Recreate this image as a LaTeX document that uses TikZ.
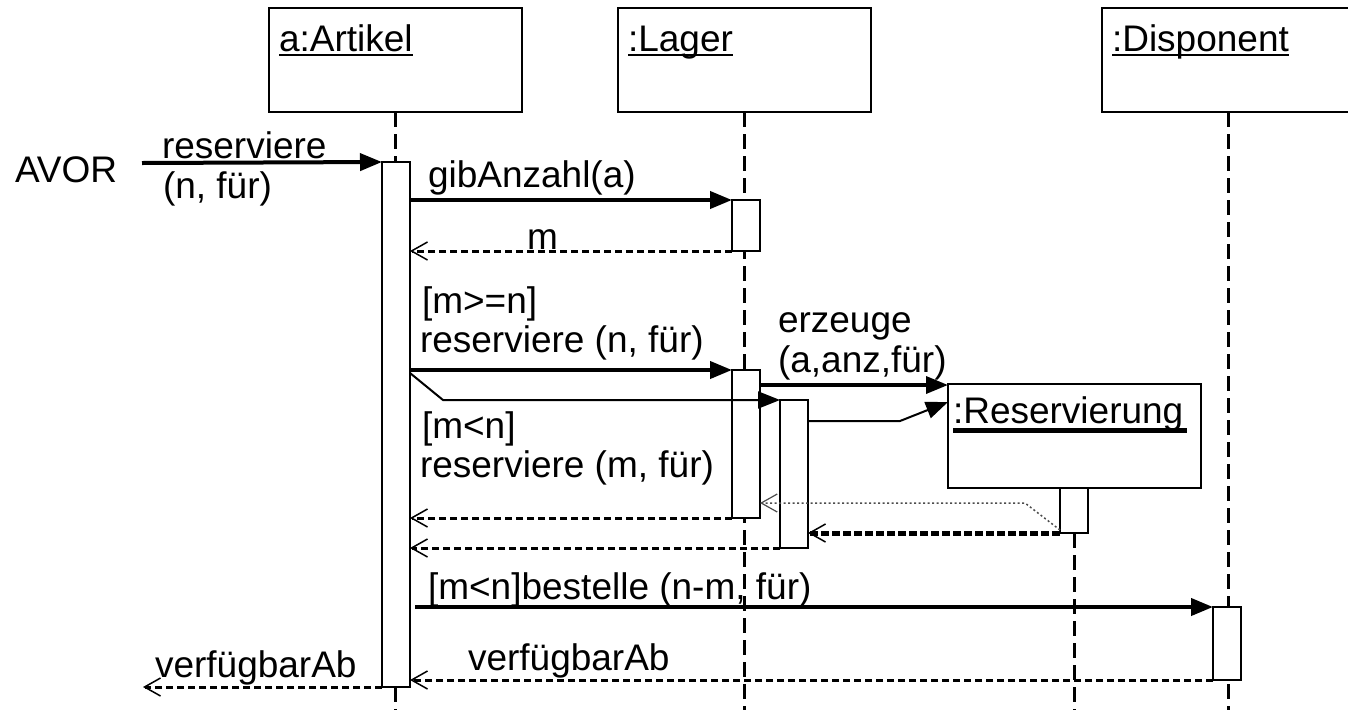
\documentclass[tikz,border=0pt]{standalone}
\usepackage{fontspec}
\setmainfont{Liberation Sans}
\usetikzlibrary{arrows.meta}
\begin{document}
\begin{tikzpicture}[x=1pt,y=-1pt,
  every node/.style={font=\fontsize{37}{40}\selectfont, inner sep=0pt, outer sep=0pt},
  lbl/.style={anchor=base west},
  hbox/.style={draw, line width=2pt, minimum width=253pt, minimum height=104pt, anchor=north west, fill=white},
  abox/.style={draw, line width=2pt, minimum width=28pt, anchor=north west, fill=white},
  life/.style={line width=3pt, dash pattern=on 15pt off 7pt},
  uline/.style={line width=2pt},
  msg/.style={line width=4pt, -{Triangle[length=22pt,width=17pt]}},
  msgmid/.style={line width=3.5pt, -{Triangle[length=22pt,width=17pt]}},
  msgthin/.style={line width=2pt, -{Triangle[length=22pt,width=17pt]}},
  ret/.style={line width=3pt, dash pattern=on 7pt off 4pt, -{Straight Barb[length=16pt,width=18pt,line width=1.5pt]}},
  retthick/.style={line width=5pt, dash pattern=on 8pt off 3pt, -{Straight Barb[length=16pt,width=18pt,line width=1.5pt]}},
  retdot/.style={line width=1.5pt, black!70, dash pattern=on 2pt off 2.5pt, -{Straight Barb[length=16pt,width=18pt,line width=1.2pt]}}
]
\useasboundingbox (0,0) rectangle (1348,710);
\clip (0,0) rectangle (1348,710);
\fill[white] (0,0) rectangle (1348,710);
\coordinate (bot) at (0,710);

% header boxes
\node[hbox] (hA) at (269,8) {};
\node[hbox] (hL) at (618,8) {};
\node[hbox] (hD) at (1102,8) {};
\node[lbl] (tA) at (279,51) {a:Artikel};
\node[lbl] (tL) at (628,51) {:Lager};
\node[lbl] (tD) at (1112,51) {:Disponent};
\draw[uline] ([yshift=-4pt]tA.base west) -- ([yshift=-4pt]tA.base east);
\draw[uline] ([yshift=-4pt]tL.base west) -- ([yshift=-4pt]tL.base east);
\draw[uline] ([yshift=-4pt]tD.base west) -- ([yshift=-4pt]tD.base east);

% lifelines
\draw[life] (hA.south) -- (hA.south |- 0,162);
\draw[life] (hA.south |- 0,687) -- (hA.south |- bot);
\draw[life] (hL.south) -- (hL.south |- bot);
\draw[life] (hD.south) -- (hD.south |- bot);

% Reservierung object
\node[hbox] (rs) at (948,384) {};
\node[lbl] (tR) at (953,423) {:Reservierung};
\draw[line width=5pt] (953,430) -- (1187,430);

% activation boxes
\node[abox, minimum height=525pt] (aA) at (382,162) {};
\node[abox, minimum height=51pt] (lg1) at (732,200) {};
\node[abox, minimum height=148pt] (lg2) at (732,370) {};
\node[abox, minimum height=148pt] (lg3) at (780,400) {};
\node[abox, minimum height=45pt] (rsA) at (1060,488) {};
\node[abox, minimum height=73pt] (dpA) at (1213,607) {};
\draw[life] (rsA.south) -- (rsA.south |- bot);

% AVOR
\node[lbl] (avor) at (15,182) {AVOR};
\coordinate (avorR) at (142,163);
\draw[msg] (avorR) -- (aA.north west);
\node[lbl] (l1) at (162,158) {reserviere};
\node[lbl] (l2) at (163,198) {(n, für)};

% gibAnzahl
\draw[msg] (aA.east |- lg1.north) -- (lg1.north west);
\node[lbl] (l3) at (428,187) {gibAnzahl(a)};
\draw[ret] (lg1.south west) -- (aA.east |- lg1.south);
\node[lbl] (l4) at (527,249) {m};

% reserviere (n)
\node[lbl] (l5) at (422,313) {[m>=n]};
\node[lbl] (l6) at (420,352) {reserviere (n, für)};
\draw[msg] (aA.east |- lg2.north) -- (lg2.north west);

% reserviere (m)
\coordinate (d1) at (443,400);
\draw[msgthin] (aA.east |- 0,373) -- (d1) -- (lg3.north west);
\node[lbl] (l7) at (422,438) {[m<n]};
\node[lbl] (l8) at (420,477) {reserviere (m, für)};

% erzeuge
\node[lbl] (l9) at (778,332) {erzeuge};
\node[lbl] (l10) at (778,372) {(a,anz,für)};
\coordinate (rsIn1) at (948,385);
\draw[msgmid] (lg2.east |- rsIn1) -- (rsIn1);
\coordinate (k1) at (900,421);
\coordinate (rsIn2) at (948,402);
\draw[msgthin] (lg3.east |- k1) -- (k1) -- (rsIn2);

% returns from Reservierung
\coordinate (k2) at (1025,503);
\draw[retdot] (rsA.west |- 0,530) -- (k2) -- (lg2.east |- k2);
\draw[retthick] (rsA.south west) -- (lg3.east |- rsA.south);

% returns to Artikel
\draw[ret] (lg2.south west) -- (aA.east |- lg2.south);
\draw[ret] (lg3.south west) -- (aA.east |- lg3.south);

% bestelle
\node[lbl] (l11) at (428,599) {[m<n]bestelle (n-m, für)};
\coordinate (bs) at (415,607);
\draw[msg] (bs) -- (dpA.north west);
\draw[ret] (dpA.south west) -- (aA.east |- dpA.south);
\node[lbl] (l12) at (468,670) {verfügbarAb};

% final return
\coordinate (out) at (143,687);
\draw[ret] (aA.south west) -- (out);
\node[lbl] (l13) at (155,677) {verfügbarAb};
\end{tikzpicture}
\end{document}
